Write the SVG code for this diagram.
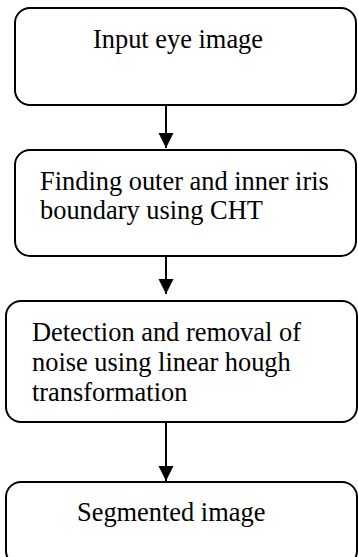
<svg xmlns="http://www.w3.org/2000/svg" width="358" height="557" viewBox="0 0 358 557">
  <style>
    .box { fill: #ffffff; stroke: #000000; stroke-width: 2; }
    .label { font-family: "Liberation Serif", "Times New Roman", serif; font-size: 26.4px; fill: #000000; }
    .link { stroke: #000000; stroke-width: 2; fill: none; }
  </style>
  <defs>
    <marker id="arrowhead" markerUnits="userSpaceOnUse" markerWidth="16" markerHeight="16" refX="15" refY="8" orient="auto">
      <path d="M0,0.5 L15,8 L0,15.5 Z" fill="#000000"/>
    </marker>
  </defs>
  <rect width="358" height="557" fill="#ffffff"/>

  <g id="input-eye-image">
    <rect class="box" x="15" y="8" width="341" height="97" rx="15" ry="15"/>
    <text class="label" x="93" y="48">Input eye image</text>
  </g>

  <g id="find-iris-boundary">
    <rect class="box" x="15" y="150" width="341" height="106" rx="15" ry="15"/>
    <text class="label" x="40" y="190">Finding outer and inner iris</text>
    <text class="label" x="40" y="219">boundary using CHT</text>
  </g>

  <g id="noise-removal">
    <rect class="box" x="6" y="301" width="351" height="121" rx="15" ry="15"/>
    <text class="label" x="32" y="341">Detection and removal of</text>
    <text class="label" x="32" y="371">noise using linear hough</text>
    <text class="label" x="32" y="401">transformation</text>
  </g>

  <g id="segmented-image">
    <rect class="box" x="6" y="482" width="351" height="84" rx="15" ry="15"/>
    <text class="label" x="77" y="521">Segmented image</text>
  </g>

  <g id="connectors">
    <line class="link" x1="166" y1="105" x2="166" y2="148" marker-end="url(#arrowhead)"/>
    <line class="link" x1="166" y1="256" x2="166" y2="294" marker-end="url(#arrowhead)"/>
    <line class="link" x1="166" y1="422" x2="166" y2="481" marker-end="url(#arrowhead)"/>
  </g>
</svg>
